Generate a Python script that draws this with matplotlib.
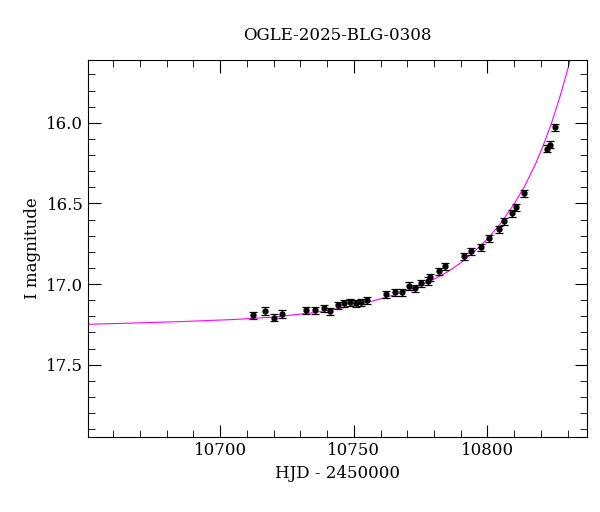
import matplotlib
matplotlib.use("Agg")
import matplotlib.pyplot as plt
from matplotlib.ticker import MultipleLocator

title = "OGLE-2025-BLG-0308"
hjd = [10712.3, 10716.8, 10720.2, 10723.1, 10732.1, 10735.5, 10738.8, 10741.1,
       10744.0, 10746.3, 10748.5, 10750.7, 10752.6, 10754.9, 10762.0, 10765.3,
       10767.9, 10770.5, 10772.8, 10775.0, 10777.6, 10778.4, 10781.7, 10784.3,
       10791.4, 10793.7, 10797.4, 10800.7, 10804.5, 10806.3, 10809.0, 10810.5,
       10813.8, 10822.4, 10823.5, 10825.4]
mag = [17.195, 17.167, 17.208, 17.186, 17.162, 17.162, 17.149, 17.168,
       17.131, 17.118, 17.112, 17.118, 17.112, 17.100, 17.062, 17.050,
       17.050, 17.012, 17.025, 16.994, 16.981, 16.959, 16.921, 16.890,
       16.828, 16.797, 16.772, 16.716, 16.660, 16.610, 16.560, 16.523,
       16.436, 16.162, 16.137, 16.028]
err = [0.022]*len(hjd)
model_t = [10645, 10665, 10685, 10705, 10720, 10735, 10745, 10755, 10765, 10773,
           10780, 10785, 10790, 10795, 10800, 10805, 10810, 10814, 10818, 10821,
           10824, 10827, 10830, 10833, 10836]
model_m = [17.252, 17.243, 17.233, 17.220, 17.205, 17.177, 17.150, 17.115, 17.068, 17.021,
           16.970, 16.925, 16.868, 16.800, 16.720, 16.622, 16.503, 16.390, 16.255, 16.135,
           16.000, 15.845, 15.670, 15.480, 15.28]

plt.rcParams["font.family"] = "DejaVu Serif"
fig = plt.figure(figsize=(6.0, 5.12), dpi=100)
ax = fig.add_axes([0.147, 0.146, 0.832, 0.737])
ax.plot(model_t, model_m, color="#ff00ff", lw=0.8, zorder=1)
ax.errorbar(hjd, mag, yerr=err, fmt="o", color="black", ms=3.5, elinewidth=0.9,
            capsize=3, capthick=0.9, zorder=2)
ax.set_xlim(10650.6, 10837.4)
ax.set_ylim(17.95, 15.61)
ax.xaxis.set_major_locator(MultipleLocator(50))
ax.xaxis.set_minor_locator(MultipleLocator(10))
ax.yaxis.set_major_locator(MultipleLocator(0.5))
ax.yaxis.set_minor_locator(MultipleLocator(0.1))
ax.tick_params(which="both", direction="in", top=True, right=True, labelsize=12)
ax.tick_params(which="major", length=9)
ax.tick_params(which="minor", length=5)
ax.set_xlabel("HJD - 2450000", fontsize=12)
ax.set_ylabel("I magnitude", fontsize=12)
ax.set_title(title, fontsize=12, pad=14)
fig.savefig("out.png", dpi=100)
